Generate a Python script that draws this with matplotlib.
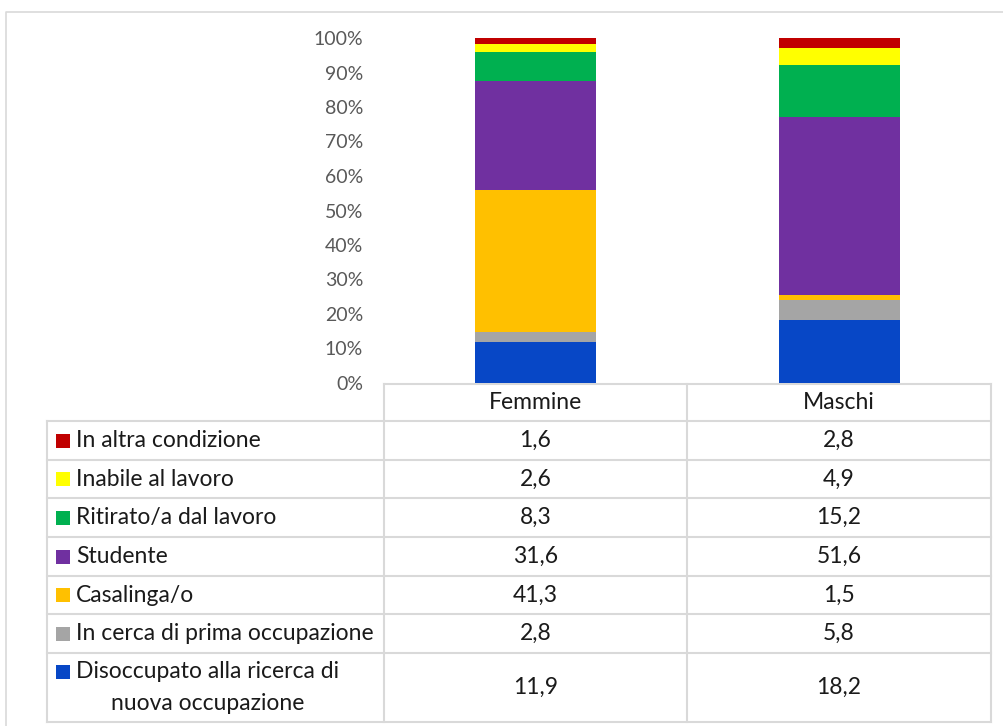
import matplotlib.pyplot as plt
import numpy as np

# data (percent), bottom to top of the stack
groups = ["Femmine", "Maschi"]
labels = [
    "Disoccupato alla ricerca di\nnuova occupazione",
    "In cerca di prima occupazione",
    "Casalinga/o",
    "Studente",
    "Ritirato/a dal lavoro",
    "Inabile al lavoro",
    "In altra condizione",
]
femmine = [11.9, 2.8, 41.3, 31.6, 8.3, 2.6, 1.6]
maschi = [18.2, 5.8, 1.5, 51.6, 15.2, 4.9, 2.8]
colors = ["#0747C6", "#A5A5A5", "#FFC000", "#7030A0", "#00B050", "#FFFF00", "#C00000"]

W, H = 1004, 726
plt.rcParams['font.family'] = ['Lato', 'DejaVu Sans']
fig = plt.figure(figsize=(W / 100, H / 100), dpi=100)

# pixel-space overlay for frame and table
ov = fig.add_axes([0, 0, 1, 1])
ov.set_xlim(0, W)
ov.set_ylim(H, 0)
ov.axis("off")

grid_c = "#D9D9D9"
ov.plot([6.5, 6.5, W + 5], [H + 5, 11.5, 11.5], color=grid_c, lw=1.2)

# bar axes
x0, x1, y_top, y_bot = 384, 991, 38, 383
ax = fig.add_axes([x0 / W, 1 - y_bot / H, (x1 - x0) / W, (y_bot - y_top) / H])
vals = np.array([femmine, maschi], dtype=float)
vals = vals / vals.sum(axis=1, keepdims=True) * 100
xpos = np.arange(len(groups))
bottom = np.zeros(len(groups))
for i, lab in enumerate(labels):
    ax.bar(xpos, vals[:, i], bottom=bottom, width=0.40, color=colors[i], linewidth=0)
    bottom += vals[:, i]
ax.set_xlim(-0.5, len(groups) - 0.5)
ax.set_ylim(0, 100)
ax.set_yticks(np.arange(0, 101, 10))
ax.set_yticklabels([f"{t}%" for t in range(0, 101, 10)], color="#595959", fontsize=14)
ax.tick_params(axis="y", length=0, pad=15)
ax.set_xticks([])
for s in ax.spines.values():
    s.set_visible(False)
ax.patch.set_alpha(0)

# data table
col_x = [384, 687, 991]
left_x = 47
row_y = [421, 460, 498, 537, 576, 614, 653, 722]
head_y = 384
txt_c = "#1A1A1A"
fs = 16.5

ov.plot([col_x[0], col_x[-1]], [head_y, head_y], color=grid_c, lw=1.5)
for y in row_y:
    ov.plot([left_x, col_x[-1]], [y, y], color=grid_c, lw=1.5)
ov.plot([left_x, left_x], [row_y[0], row_y[-1]], color=grid_c, lw=1.5)
for x in col_x:
    ov.plot([x, x], [head_y, row_y[-1]], color=grid_c, lw=1.5)

for j, g in enumerate(groups):
    ov.text((col_x[j] + col_x[j + 1]) / 2, (head_y + row_y[0]) / 2, g,
            ha="center", va="center", fontsize=fs, color=txt_c)

order = list(range(len(labels)))[::-1]
for r, i in enumerate(order):
    ya, yb = row_y[r], row_y[r + 1]
    yc = (ya + yb) / 2
    lines = labels[i].split("\n")
    if len(lines) == 1:
        ov.add_patch(plt.Rectangle((56, yc - 7), 14, 14, color=colors[i], lw=0))
        ov.text(76, yc, lines[0], ha="left", va="center", fontsize=fs, color=txt_c)
    else:
        ov.add_patch(plt.Rectangle((56, yc - 23), 14, 14, color=colors[i], lw=0))
        ov.text(76, yc - 16, lines[0], ha="left", va="center", fontsize=fs, color=txt_c)
        ov.text(208, yc + 16, lines[1], ha="center", va="center", fontsize=fs, color=txt_c)
    for j, series in enumerate([femmine, maschi]):
        ov.text((col_x[j] + col_x[j + 1]) / 2, yc, f"{series[i]:.1f}".replace(".", ","),
                ha="center", va="center", fontsize=fs, color=txt_c)

fig.savefig("out.png", dpi=100)
